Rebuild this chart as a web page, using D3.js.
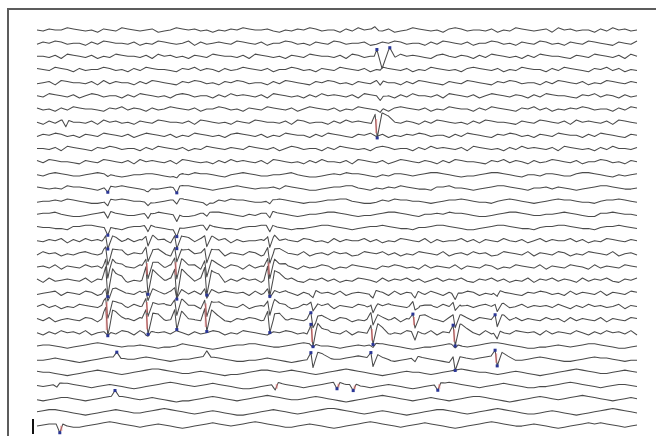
<!DOCTYPE html>
<html><head><meta charset="utf-8">
<script src="https://cdn.jsdelivr.net/npm/d3@7"></script>
<style>html,body{margin:0;padding:0;background:#fff;}svg{display:block;}</style>
</head><body>
<svg id="chart" width="656" height="436"></svg>
<script>
// ---------- DATA ----------
const channels = d3.range(1, 32).map(i => "Ch" + i);
const durationSec = 10;
const wiggleUnitUV = 5.5; // one digit step in microvolts
// background activity per channel, one digit per sample (5 = baseline)
const wiggle = [
"5465576545365476545634576564535465765564354657645536475654634576545367645546354765456375645536475645",
"4657645536476554635476545736456547654635576453654764556346576455364765463557645365476453654765436547",
"5546376546354765546375645365476554637654536547655463764553647565436754653647654536476554365476546375",
"6547653645576453647655436574653645765463557645365476546357654635476545367654635476553647654365746354",
"4563765546374655364765436576453657645536476543657645365476553647654365476543657645536476546354765465",
"5476546357645536476545367645536475654637654536475654637654536475546376546357654653647655436574653645",
"6453647655436574653645765463557645365476546357654635476545367654635476553647654365746354657645536476",
"5364765546375645365476554637654536547655463764553647565436754653647654536476554365476546375654637654",
"4657645365476546357654635476545367654635476553647654365746354657645536476543657645365476553647654365",
"5546376543657645536476546354765465476546357645536476545367645536475654637654536475654637654536475546",
"6476554365476546375654637654536475654637654536475546376546357654653647655436574653645765463557645365",
"5467654456765434556654346576654356765445567543345657665435466545677654344567765435546654467765435456",
"6545476654356676543445657765434567654556476543345667754354657654436675543456776543556465434567765445",
"4556576543346676554345667654336576654456765434456677543346576655434566765443567654345676654435667654",
"5667543345677654456576543346677654354667654345567765434456776543556576654334567765445567654336676554",
"6554436677654435667654334567765443566776543445677654345667654435567765433456776544356677654435667654",
"5465736475645537465746355647564736455647365476453746557463547654736455746365475463574655746354765465",
"4756354675463574656475364756457365476354765473564756347657463547654735647563476547365476354765473564",
"5647365475637465475364756473565476374656475364576354765436576453746547365476354765473654765374654765",
"6374565473657463547654736547657364756374657436574635476537465746357465743657463547365746537465743657",
"4567365476354765473654765374654765637465475364756473565476374656475364576354765436576453746547365476",
"5746354765473564756347657463547654735647563476547365476354765473564756354675463574656475364756457365",
"6473565476374656475364576354765436576453746547365476354765473654765374654765563746547563746547365476",
"5364756473565476374656475364576354765436576453746547365476354765473654765374654765637465475364756473",
"5665434567876545565434457654323456677654456787655434565677654323445676545678876543344565456776543345",
"4456543234567765567654345567876543344565432345676556787654434567654322345678765445676543345676654344",
"6554323456765434567887654456543233456776567654345678765432345655434567876554345654323456787654456765",
"5456776543456543234567876545676543223456765434567876654345654323456787654345676543344567876543456654",
"4345665434567876545654323345676543456787654456765432345678765434565434567765432345676545678765434565",
"5677654323456765445678765434565432234567654345678876543456543234567765434567876543345654323456787654",
"4566543345678765434565432345676545678765433456543234567876543456765432345678765445654323456767654345"
];
// spike waveform shapes: [time offset (s), relative amplitude]
const spikeShapes = {
  dip: [[-0.06,0],[0,-1],[0.05,0.15],[0.12,0]],
  sw:  [[-0.1,0],[-0.035,0.7],[0,-1],[0.08,0.6],[0.18,0.3],[0.3,0]],
  bi:  [[-0.13,0],[-0.085,0.7],[0,-1],[0.13,0.8],[0.22,0]],
  up:  [[-0.06,0],[0,1],[0.07,-0.1],[0.12,0]]
};
// detected events: [channel index, time (s), shape, amplitude (uV), marks]
// marks: r = red marker, b = blue at trough, B = blue at highest point, W = blue at every peak
const spikeEvents = [
  [0,5.63,"up",15,""],
  [2,5.75,"bi",50,"W"],
  [3,5.72,"dip",10,""],[4,5.72,"dip",20,""],[5,5.72,"dip",20,""],[6,5.72,"dip",15,""],
  [7,0.48,"dip",30,""],[7,5.67,"sw",70,"rb"],
  [11,1.18,"dip",10,""],[11,2.33,"dip",10,""],
  [12,1.18,"dip",25,"b"],[12,1.85,"dip",10,""],[12,2.33,"dip",25,"b"],
  [13,1.18,"dip",25,""],[13,1.85,"dip",15,""],[13,2.33,"dip",20,""],[13,2.83,"dip",10,""],[13,3.88,"dip",15,""],
  [14,1.18,"dip",30,""],[14,1.85,"dip",25,""],[14,2.33,"dip",30,""],[14,2.83,"dip",15,""],[14,3.88,"dip",25,""],
  [15,1.18,"dip",35,"b"],[15,1.85,"dip",30,""],[15,2.33,"dip",35,"b"],[15,2.83,"dip",25,""],[15,3.88,"dip",30,""],
  [16,1.18,"sw",40,"b"],[16,1.85,"sw",30,""],[16,2.33,"sw",40,"b"],[16,2.83,"sw",30,""],[16,3.88,"sw",35,""],
  [17,1.18,"sw",50,""],[17,1.85,"sw",40,""],[17,2.33,"sw",45,""],[17,2.83,"sw",40,""],[17,3.88,"sw",45,""],
  [18,1.18,"sw",60,""],[18,1.85,"sw",55,"r"],[18,2.33,"sw",60,"r"],[18,2.83,"sw",50,""],[18,3.88,"sw",60,"r"],
  [19,1.18,"sw",90,"b"],[19,1.85,"sw",80,"b"],[19,2.33,"sw",85,"b"],[19,2.83,"sw",80,"b"],[19,3.88,"sw",85,"b"],
  [20,1.18,"sw",35,""],[20,1.85,"sw",30,""],[20,2.33,"sw",30,""],[20,2.83,"sw",30,""],[20,3.88,"sw",25,""],
  [20,4.60,"dip",25,""],[20,5.60,"dip",25,""],[20,6.30,"dip",25,""],[20,6.97,"dip",25,""],[20,7.67,"dip",25,""],
  [21,1.18,"sw",55,"r"],[21,1.85,"sw",50,"r"],[21,2.33,"sw",45,""],[21,2.83,"sw",50,"r"],[21,3.88,"sw",45,""],
  [21,4.60,"sw",25,""],[21,5.60,"sw",25,""],[21,6.30,"sw",20,""],[21,6.97,"sw",25,""],[21,7.67,"sw",20,""],
  [22,1.18,"sw",80,"rb"],[22,1.85,"sw",70,"rb"],[22,2.33,"sw",60,"b"],[22,2.83,"sw",70,"rb"],[22,3.88,"sw",60,"b"],
  [22,4.60,"sw",40,"B"],[22,5.60,"sw",35,""],[22,6.30,"sw",40,"rB"],[22,6.97,"sw",35,""],[22,7.67,"sw",35,"B"],
  [23,1.18,"dip",15,""],[23,1.85,"dip",15,""],
  [23,4.60,"sw",70,"Brb"],[23,5.60,"sw",60,"rb"],[23,6.30,"dip",40,""],[23,6.97,"sw",60,"Brb"],[23,7.67,"dip",35,""],
  [24,4.60,"dip",15,""],[24,5.60,"dip",15,""],[24,6.97,"dip",15,""],
  [25,1.33,"up",25,"B"],[25,2.83,"up",25,""],
  [25,4.60,"sw",45,"B"],[25,5.60,"sw",40,"B"],[25,6.30,"dip",20,""],[25,6.97,"sw",40,"b"],[25,7.67,"sw",45,"Brb"],
  [27,0.33,"dip",15,""],[27,3.97,"dip",30,"r"],[27,5.00,"dip",30,"rb"],[27,5.27,"dip",30,"rb"],[27,6.68,"dip",30,"rb"],
  [28,1.30,"up",25,"B"],
  [30,0.38,"dip",40,"rb"]
];
const scaleBarUV = 75;

// ---------- SCALES ----------
const svg = d3.select("#chart");
const x = d3.scaleLinear().domain([0, durationSec]).range([37, 637]);
const y = d3.scalePoint().domain(channels).range([30, 425]);
const amp = d3.scaleLinear().domain([-50, 50]).range([10, -10]);

function shapeValue(shape, dt) {
  const s = spikeShapes[shape];
  if (dt <= s[0][0] || dt >= s[s.length - 1][0]) return 0;
  for (let i = 0; i < s.length - 1; i++) {
    if (dt >= s[i][0] && dt <= s[i + 1][0]) {
      const f = (dt - s[i][0]) / (s[i + 1][0] - s[i][0]);
      return s[i][1] * (1 - f) + s[i + 1][1] * f;
    }
  }
  return 0;
}
const eventsByRow = channels.map((c, i) => spikeEvents.filter(e => e[0] === i));
function value(r, t) {
  const w = wiggle[r], n = w.length, dt = durationSec / (n - 1);
  const k = Math.max(0, Math.min(n - 2, Math.floor(t / dt)));
  const f = t / dt - k;
  let v = ((+w[k] - 5) * (1 - f) + (+w[k + 1] - 5) * f) * wiggleUnitUV;
  for (const e of eventsByRow[r]) v += shapeValue(e[2], t - e[1]) * e[3];
  return v;
}

// border
svg.append("path").attr("d", "M8,436V9H656").attr("fill", "none")
  .attr("stroke", "#5c5c5c").attr("stroke-width", 2);

// traces
const line = d3.line().x(d => x(d[0])).y(d => d[1]).curve(d3.curveLinear);
channels.forEach((ch, r) => {
  const n = wiggle[r].length, dt = durationSec / (n - 1);
  let ts = d3.range(n).map(k => k * dt);
  eventsByRow[r].forEach(e => spikeShapes[e[2]].forEach(p => ts.push(e[1] + p[0])));
  ts = Array.from(new Set(ts.filter(t => t >= 0 && t <= durationSec).map(t => +t.toFixed(4)))).sort((a, b) => a - b);
  const pts = ts.map(t => [t, y(ch) + amp(value(r, t))]);
  svg.append("path").attr("d", line(pts)).attr("fill", "none")
    .attr("stroke", "#4a4a4a").attr("stroke-width", 1.05).attr("stroke-linejoin", "round");
});

// markers
const mg = svg.append("g");
spikeEvents.forEach(e => {
  const [r, t0, shape, a, marks] = e;
  if (!marks) return;
  const s = spikeShapes[shape];
  const ch = channels[r];
  const maxP = s.reduce((m, p) => p[1] > m[1] ? p : m, s[0]);
  const minP = s.reduce((m, p) => p[1] < m[1] ? p : m, s[0]);
  const yAt = t => y(ch) + amp(value(r, t));
  const tPk = t0 + maxP[0], tTr = t0 + minP[0];
  if (marks.includes("r")) {
    const yp = yAt(tPk), yt = yAt(tTr);
    const tm = (tPk + tTr) / 2;
    mg.append("line").attr("x1", x(tm)).attr("x2", x(tm))
      .attr("y1", yp + 0.2 * (yt - yp)).attr("y2", yp + 0.8 * (yt - yp))
      .attr("stroke", "#e07070").attr("stroke-opacity", 0.6).attr("stroke-width", 2);
  }
  const blue = t => mg.append("rect").attr("x", x(t) - 1.5).attr("y", yAt(t) - 1.5)
    .attr("width", 3).attr("height", 3).attr("fill", "#2a3696");
  if (marks.includes("b")) blue(tTr);
  if (marks.includes("B")) blue(tPk);
  if (marks.includes("W")) s.filter(p => p[1] >= 0.5).forEach(p => blue(t0 + p[0]));
});

// amplitude scale bar
svg.append("line").attr("x1", 33).attr("x2", 33)
  .attr("y1", 434 - (amp(0) - amp(scaleBarUV))).attr("y2", 434)
  .attr("stroke", "#111").attr("stroke-width", 2);
</script>
</body></html>
